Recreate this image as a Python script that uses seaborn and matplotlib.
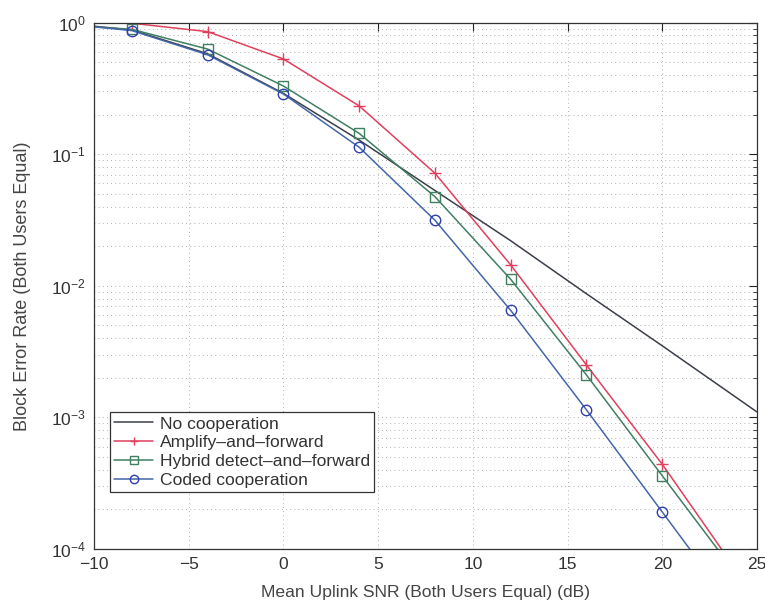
import numpy as np
import pandas as pd
import matplotlib
matplotlib.use("Agg")
import matplotlib.pyplot as plt
import seaborn as sns
from matplotlib.ticker import FixedLocator, LogLocator, NullFormatter, FuncFormatter

# SNR points (dB); markers drawn from -8 to 20
snr = [-10, -8, -4, 0, 4, 8, 12, 16, 20, 24]
snr_noncoop = [-10, -8, -4, 0, 4, 8, 12, 16, 20, 25]

no_coop = [0.94, 0.88, 0.58, 0.29, 0.128, 0.053, 0.022, 0.0087, 0.0035, 0.0011]
amplify = [0.995, 0.99, 0.855, 0.53, 0.233, 0.0717, 0.0144, 0.0025, 0.00044, 0.000066]
hybrid = [0.93, 0.89, 0.63, 0.33, 0.144, 0.0476, 0.0112, 0.0021, 0.00036, 0.000062]
coded = [0.93, 0.87, 0.57, 0.287, 0.113, 0.0315, 0.0065, 0.00114, 0.000191, 0.000032]

labels = ["No cooperation", "Amplify\u2013and\u2013forward",
          "Hybrid detect\u2013and\u2013forward", "Coded cooperation"]
xticks = [-10, -5, 0, 5, 10, 15, 20, 25]

sns.set_style("white")
plt.rcParams["font.family"] = ["Liberation Sans", "DejaVu Sans"]
plt.rcParams["mathtext.fontset"] = "custom"
plt.rcParams["mathtext.rm"] = "Liberation Sans"
plt.rcParams["mathtext.it"] = "Liberation Sans"
plt.rcParams["axes.unicode_minus"] = True

fig = plt.figure(figsize=(7.65, 6.03), dpi=100)
ax = fig.add_axes([0.1229, 0.0896, 0.8666, 0.8728])
ax.set_yscale("log")

# MATLAB-ish dotted grid, faint
grid_kw = dict(linestyle=(0, (1, 4)), color="#9a9a9a", linewidth=0.6)
ax.grid(True, which="major", axis="both", **grid_kw)
ax.grid(True, which="minor", axis="y", **grid_kw)

mk = slice(1, 9)
sns.lineplot(x=snr_noncoop, y=no_coop, ax=ax, color="#3a3f48", linewidth=1.1, label=labels[0])
sns.lineplot(x=snr, y=amplify, ax=ax, color="#e0405c", linewidth=1.1, marker="+",
             markersize=8, markeredgecolor="#e0405c", markeredgewidth=1.0,
             markevery=mk, label=labels[1])
sns.lineplot(x=snr, y=hybrid, ax=ax, color="#3f7f62", linewidth=1.1, marker="s",
             markersize=6.5, markerfacecolor="none", markeredgecolor="#3f7f62",
             markeredgewidth=1.0, markevery=mk, label=labels[2])
sns.lineplot(x=snr, y=coded, ax=ax, color="#4466aa", linewidth=1.1, marker="o",
             markersize=7.5, markerfacecolor="none", markeredgecolor="#2f3fae",
             markeredgewidth=1.0, markevery=mk, label=labels[3])

ax.set_xlim(-10, 25)
ax.set_ylim(1e-4, 1)
ax.xaxis.set_major_locator(FixedLocator(xticks))
ax.xaxis.set_major_formatter(FuncFormatter(lambda v, p: f"{int(v)}".replace("-", "\u2212")))
ax.yaxis.set_major_locator(LogLocator(base=10, numticks=10))
ax.yaxis.set_minor_locator(LogLocator(base=10, subs=np.arange(2, 10), numticks=20))
ax.yaxis.set_minor_formatter(NullFormatter())
ax.yaxis.set_major_formatter(FuncFormatter(lambda v, p: r"$10^{%d}$" % round(np.log10(v))))

ax.tick_params(axis="both", which="both", direction="in", top=True, right=True,
               labelsize=12.5, colors="#222222", labelcolor="#333333")
ax.tick_params(axis="both", which="major", length=6, width=0.8, pad=6)
ax.tick_params(axis="y", which="minor", length=3, width=0.6)
for s in ax.spines.values():
    s.set_color("#333333")
    s.set_linewidth(0.9)

ax.set_xlabel("Mean Uplink SNR (Both Users Equal) (dB)", fontsize=12.6, color="#444444", labelpad=9)
ax.set_ylabel("Block Error Rate (Both Users Equal)", fontsize=13, color="#444444", labelpad=14)

leg = ax.legend(loc="lower left", bbox_to_anchor=(0.024, 0.108), fontsize=12.6, frameon=True,
                fancybox=False, framealpha=1, edgecolor="#333333", borderpad=0.25,
                handlelength=2.2, handletextpad=0.4, labelspacing=0.2, borderaxespad=0,
                markerscale=0.8)
leg.get_frame().set_linewidth(0.9)
for t in leg.get_texts():
    t.set_color("#333333")

fig.savefig("out.png", dpi=100)
